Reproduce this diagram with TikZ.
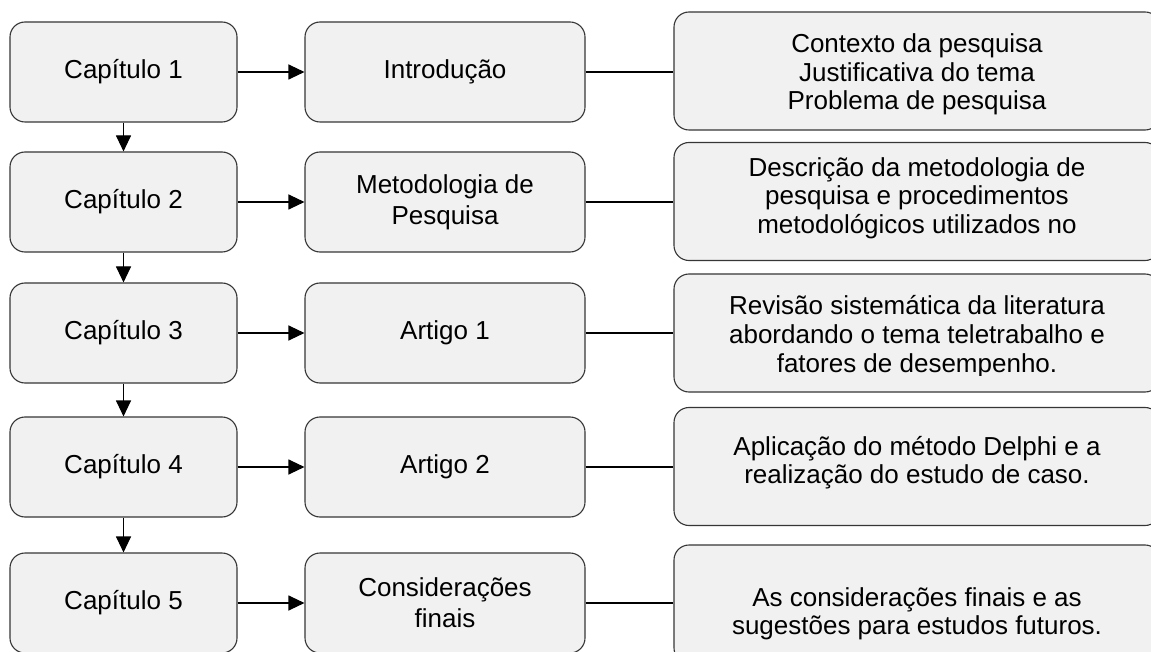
\documentclass[tikz,border=0pt]{standalone}
\usepackage{fontspec}
\setmainfont{Liberation Sans}
\usetikzlibrary{arrows.meta}
\definecolor{boxfill}{HTML}{F1F1F1}
\definecolor{boxline}{HTML}{363636}
\begin{document}
\begin{tikzpicture}[x=1pt,y=-1pt,
  basebox/.style={draw=boxline, fill=boxfill, line width=1.1pt, rounded corners=15pt,
    inner sep=0pt, font=\fontsize{26}{31}\selectfont, align=center},
  leftbox/.style={basebox, minimum width=227pt, minimum height=100pt},
  midbox/.style={basebox, minimum width=280pt, minimum height=100pt},
  rightbox/.style={basebox, minimum width=486pt, minimum height=118pt},
  linetxt/.style={anchor=base, inner sep=0pt, font=\fontsize{26}{31}\selectfont},
  arr/.style={line width=1.1pt, -{Triangle[length=16pt, width=15pt]}},
  conn/.style={line width=1.1pt}]
\useasboundingbox (0,0) rectangle (1151,652);
\fill[white] (0,0) rectangle (1151,652);

% left column
\node[leftbox] (c1) at (123.5,72)  {Capítulo 1};
\node[leftbox] (c2) at (123.5,202) {Capítulo 2};
\node[leftbox] (c3) at (123.5,333) {Capítulo 3};
\node[leftbox] (c4) at (123.5,467) {Capítulo 4};
\node[leftbox] (c5) at (123.5,603) {Capítulo 5};

% middle column
\node[midbox] (m1) at (445,72)  {Introdução};
\node[midbox] (m2) at (445,202) {Metodologia de\\Pesquisa};
\node[midbox] (m3) at (445,333) {Artigo 1};
\node[midbox] (m4) at (445,467) {Artigo 2};
\node[midbox] (m5) at (445,603) {Considerações\\finais};

% right column (boxes)
\node[rightbox] (r1) at (917,71)    {};
\node[rightbox] (r2) at (917,201.5) {};
\node[rightbox] (r3) at (917,333)   {};
\node[rightbox] (r4) at (917,466.5) {};
\node[rightbox] (r5) at (917,604)   {};

% right column texts (clipped as in the original)
\begin{scope}
  \clip (674,12) rectangle (1160,115);
  \node[linetxt] (r1a) at (917,53)    {Contexto da pesquisa};
  \node[linetxt] (r1b) at (917,81.5)  {Justificativa do tema};
  \node[linetxt] (r1c) at (917,110)   {Problema de pesquisa};
\end{scope}
\begin{scope}
  \clip (674,143) rectangle (1160,239.5);
  \node[linetxt] (r2a) at (917,176.5) {Descrição da metodologia de};
  \node[linetxt] (r2b) at (917,205)   {pesquisa e procedimentos};
  \node[linetxt] (r2c) at (917,233.5) {metodológicos utilizados no};
\end{scope}
\begin{scope}
  \clip (674,274) rectangle (1160,375);
  \node[linetxt] (r3a) at (917,315)   {Revisão sistemática da literatura};
  \node[linetxt] (r3b) at (917,343.5) {abordando o tema teletrabalho e};
  \node[linetxt] (r3c) at (917,372)   {fatores de desempenho.};
\end{scope}
\node[linetxt] (r4a) at (917,455)   {Aplicação do método Delphi e a};
\node[linetxt] (r4b) at (917,483.5) {realização do estudo de caso.};
\node[linetxt] (r5a) at (917,606)   {As considerações finais e as};
\node[linetxt] (r5b) at (917,634.5) {sugestões para estudos futuros.};

% connectors
\foreach \i in {1,...,5} {
  \draw[arr] (c\i.east) -- (m\i.west);
  \draw[conn] (m\i.east) -- (r\i.west |- m\i.east);
}
\draw[arr] (c1) -- (c2);
\draw[arr] (c2) -- (c3);
\draw[arr] (c3) -- (c4);
\draw[arr] (c4) -- (c5);
\end{tikzpicture}
\end{document}
